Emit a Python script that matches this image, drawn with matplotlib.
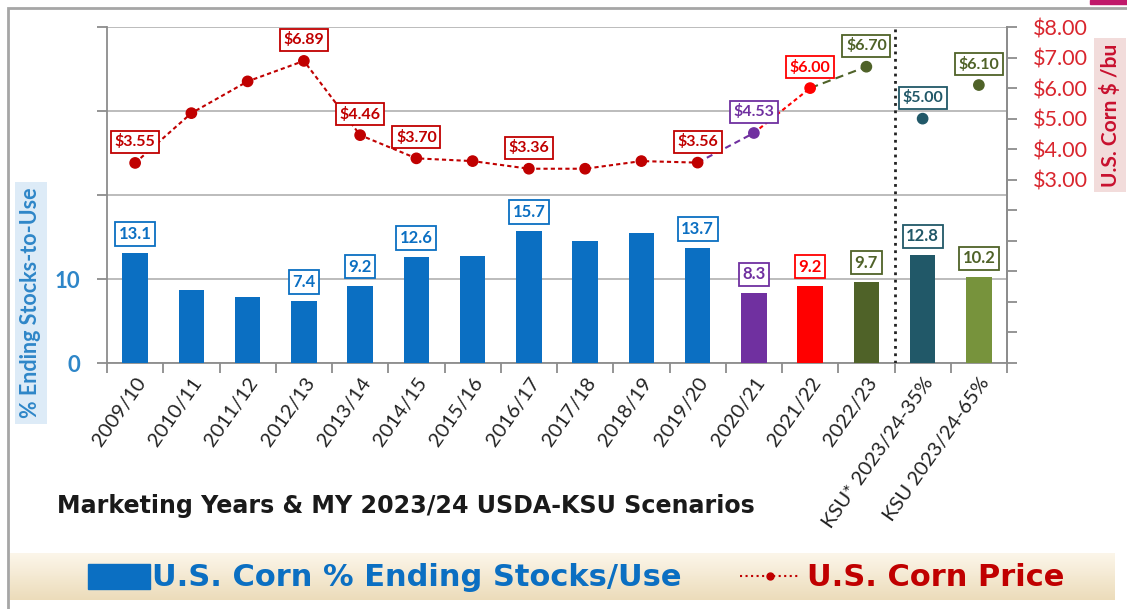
import numpy as np
import matplotlib.pyplot as plt
from matplotlib.patches import Rectangle
from matplotlib.lines import Line2D

plt.rcParams['font.family'] = ['Lato', 'DejaVu Sans']

# Data
years = ['2009/10', '2010/11', '2011/12', '2012/13', '2013/14', '2014/15', '2015/16',
         '2016/17', '2017/18', '2018/19', '2019/20', '2020/21', '2021/22', '2022/23',
         'KSU* 2023/24-35%', 'KSU 2023/24-65%']
stocks = [13.1, 8.7, 7.9, 7.4, 9.2, 12.6, 12.7, 15.7, 14.5, 15.5, 13.7, 8.3, 9.2, 9.7, 12.8, 10.2]
price = [3.55, 5.18, 6.22, 6.89, 4.46, 3.70, 3.61, 3.36, 3.36, 3.61, 3.56, 4.53, 6.00, 6.70, 5.00, 6.10]
labeled = [0, 3, 4, 5, 7, 10, 11, 12, 13, 14, 15]
right_ticks = [3, 4, 5, 6, 7, 8]

blue = '#0B6FC2'
dred = '#C00000'
bar_colors = [blue] * 11 + ['#7030A0', '#FF0000', '#4F6228', '#215868', '#77933C']
pt_colors = [dred] * 11 + ['#7030A0', '#FF0000', '#4F6228', '#215868', '#4F6228']
stock_lbl_colors = [blue] * 11 + ['#7030A0', '#FF0000', '#4F6228', '#215868', '#4F6228']
price_lbl_colors = [dred] * 11 + ['#7030A0', '#FF0000', '#4F6228', '#215868', '#4F6228']

x = np.arange(len(years))

fig = plt.figure(figsize=(11.27, 6.09), dpi=100)
ax = fig.add_axes([107 / 1127, 1 - 363 / 609, 900 / 1127, 336 / 609])
ax2 = ax.twinx()

# bars
ax.bar(x, stocks, width=0.45, color=bar_colors, zorder=3)
ax.set_xlim(-0.5, len(years) - 0.5)
ax.set_ylim(0, 40)
ax.set_yticks([0, 10, 20, 30, 40])
ax.set_yticklabels(['0', '10', '', '', ''])
ax.yaxis.grid(True, color='#B0B0B0', lw=1.2, zorder=0)
ax.set_axisbelow(True)
ax.spines['top'].set_visible(False)
for s in ['left', 'bottom', 'right']:
    ax.spines[s].set_color('#8C8C8C')
    ax.spines[s].set_linewidth(1.3)
ax.tick_params(axis='y', colors='#8C8C8C', length=7, width=1.3, labelsize=16,
               labelcolor='#2E86C8', pad=12)
for t in ax.get_yticklabels():
    t.set_fontweight('bold')
ax.set_xticks(np.arange(-0.5, len(years), 1), minor=False)
ax.set_xticklabels([])
ax.set_xticks(x, minor=True)
ax.set_xticklabels(years, minor=True, rotation=55, ha='right', rotation_mode='anchor',
                   fontsize=14.5, color='#222222')
ax.tick_params(axis='x', which='major', length=7, width=1.3, colors='#8C8C8C')
ax.tick_params(axis='x', which='minor', length=0, pad=8)

for i in labeled:
    ax.annotate(f'{stocks[i]:.1f}', (x[i], stocks[i]), xytext=(0, 19), textcoords='offset pixels',
                ha='center', va='center', fontsize=12, fontweight='bold',
                color=stock_lbl_colors[i], zorder=5,
                bbox=dict(boxstyle='square,pad=0.22', fc='white', ec=stock_lbl_colors[i], lw=1.3))

# price line
ax2.set_ylim(-3, 8)
ax2.plot(x[:11], price[:11], ls=(0, (2, 1.5)), color=dred, lw=1.5, zorder=3)
ax2.plot(x[10:12], price[10:12], ls=(0, (3, 2)), color='#7030A0', lw=1.5)
ax2.plot(x[11:13], price[11:13], ls=(0, (2, 1.5)), color='#FF0000', lw=1.5)
ax2.plot(x[12:14], price[12:14], ls=(0, (4, 2.5)), color='#4F6228', lw=1.5)
ax2.scatter(x, price, s=55, c=pt_colors, zorder=4)
ax2.set_yticks(np.arange(-3, 9, 1))
ax2.set_yticklabels([f'${v:.2f}' if v in right_ticks else '' for v in range(-3, 9)])
ax2.tick_params(axis='y', colors='#8C8C8C', length=7, width=1.3, labelsize=15.5,
                labelcolor='#D9262E', pad=12)
for s in ['top', 'left', 'bottom']:
    ax2.spines[s].set_visible(False)
ax2.spines['right'].set_color('#8C8C8C')
ax2.spines['right'].set_linewidth(1.3)

for i in labeled:
    ax2.annotate(f'${price[i]:.2f}', (x[i], price[i]), xytext=(0, 21), textcoords='offset pixels',
                 ha='center', va='center', fontsize=11.5, fontweight='bold',
                 color=price_lbl_colors[i], zorder=5,
                 bbox=dict(boxstyle='square,pad=0.22', fc='white', ec=price_lbl_colors[i], lw=1.3))

# separator between history and scenarios
ax2.axvline(13.5, color='#222222', ls=':', lw=2)

# axis titles
fig.text(31 / 1127, 1 - 303 / 609, '% Ending Stocks-to-Use', rotation=90, ha='center', va='center',
         fontsize=15.5, fontweight='bold', color='#2E86C8',
         bbox=dict(boxstyle='square,pad=0.25', fc='#DDEBF7', ec='none'))
fig.text(1110 / 1127, 1 - 115 / 609, 'U.S. Corn $ /bu', rotation=90, ha='center', va='center',
         fontsize=15, fontweight='bold', color='#C8102E',
         bbox=dict(boxstyle='square,pad=0.25', fc='#F2DCDB', ec='none'))
fig.text(57 / 1127, 1 - 506 / 609, 'Marketing Years & MY 2023/24 USDA-KSU Scenarios',
         ha='left', va='center', fontsize=17.1, fontweight='bold', color='#1A1A1A',
         family='DejaVu Sans')

# legend strip
lg = fig.add_axes([10 / 1127, 9 / 609, 1105 / 1127, 47 / 609])
grad = np.linspace(0, 1, 50).reshape(-1, 1)
top_c = np.array([252, 246, 234]) / 255
bot_c = np.array([236, 220, 186]) / 255
img = top_c + (bot_c - top_c) * grad[:, :, None] * np.ones((1, 2, 1))
lg.imshow(img, extent=(0, 1105, 0, 47), aspect='auto', origin='upper')
lg.set_xlim(0, 1105)
lg.set_ylim(0, 47)
lg.axis('off')
lg.add_patch(Rectangle((78, 11), 62, 25, color=blue))
lg.text(142, 23, 'U.S. Corn % Ending Stocks/Use', ha='left', va='center', fontsize=22,
        fontweight='bold', color=blue, family='DejaVu Sans')
lg.add_line(Line2D([730, 790], [24, 24], ls=':', color=dred, lw=1.5))
lg.plot([760], [24], 'o', color=dred, ms=5)
lg.text(797, 23, 'U.S. Corn Price', ha='left', va='center', fontsize=22,
        fontweight='bold', color=dred, family='DejaVu Sans')

# outer frame and corner mark
fig.add_artist(Rectangle((8 / 1127, -0.01), 1.1, 1 - 8 / 609 + 0.01, transform=fig.transFigure,
                         fill=False, ec='#A6A6A6', lw=2))
fig.add_artist(Rectangle((1090 / 1127, 1 - 4 / 609), 40 / 1127, 4 / 609, transform=fig.transFigure,
                         color='#C0186A'))

fig.savefig('out.png', dpi=100)
